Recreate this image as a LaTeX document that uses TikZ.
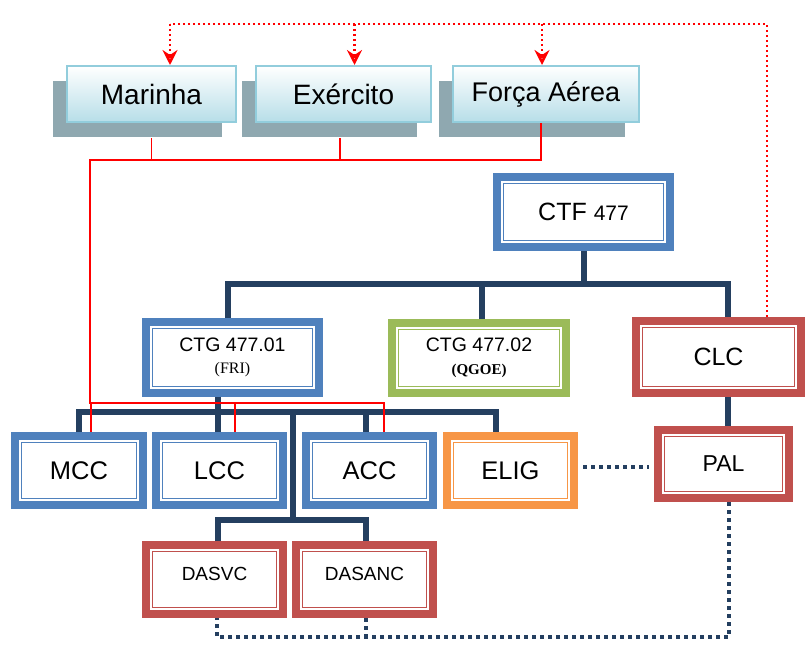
\documentclass[tikz,border=0pt]{standalone}
\usepackage{fontspec}
\setmainfont{Liberation Sans}
\newfontfamily\timesf{Liberation Serif}
\usetikzlibrary{arrows.meta,shadows}
\definecolor{cblue}{HTML}{4F81BD}
\definecolor{cred}{HTML}{C0504D}
\definecolor{cgreen}{HTML}{9BBB59}
\definecolor{corange}{HTML}{F79646}
\definecolor{cnavy}{HTML}{243F60}
\definecolor{cedge}{HTML}{92CDDC}
\definecolor{ctint}{HTML}{B7DEE8}
\definecolor{cshade}{HTML}{8FA8B0}
\newcommand{\fsz}[1]{\fontsize{#1}{#1}\selectfont}
\tikzset{
  unit/.style={draw=#1, line width=8pt, fill=white, inner sep=0pt, align=center,
    path picture={\draw[#1, line width=1.3pt] ([shift={(6.8pt,6.8pt)}]path picture bounding box.south west) rectangle ([shift={(-6.8pt,-6.8pt)}]path picture bounding box.north east);}},
  branch/.style={draw=cedge, line width=2pt, top color=white, bottom color=ctint,
    minimum height=56pt, inner sep=0pt,
    drop shadow={shadow xshift=-14pt, shadow yshift=-15pt, fill=cshade, opacity=1}},
  tree/.style={cnavy, line width=6pt},
  link/.style={cnavy, line width=4pt, dash pattern=on 4pt off 4pt},
  ctrl/.style={red, line width=1.1pt},
  order/.style={red, line width=2.4pt, dash pattern=on 2.2pt off 2.8pt},
}
\begin{document}
\begin{tikzpicture}[x=1pt, y=-1pt]
\useasboundingbox (0,0) rectangle (805,645);
% forcas singulares
\node[branch, minimum width=169pt, font=\fsz{28}] (mar) at (151.5,94) {Marinha};
\node[branch, minimum width=175pt, font=\fsz{28}] (exe) at (343.5,94) {Exército};
\node[branch, minimum width=186pt, font=\fsz{27}] (far) at (546,94) {Força Aérea};
% comando
\node[unit=cblue, minimum width=173pt, minimum height=70pt, font=\fsz{25}] (ctf) at (583.5,212) {CTF {\fsz{21}477}};
\node[unit=cblue, minimum width=173pt, minimum height=71pt, font=\fsz{19.5}] (ctg1) at (232.5,357.5) {CTG 477.01\\[3pt]{\timesf\fsz{16}(FRI)}};
\node[unit=cgreen, minimum width=174pt, minimum height=70pt, font=\fsz{19.5}] (ctg2) at (479,358) {CTG 477.02\\[3pt]{\timesf\bfseries\fsz{15}(QGOE)}};
\node[unit=cred, minimum width=165pt, minimum height=72pt, font=\fsz{25}] (clc) at (718.5,357) {CLC};
\node[unit=cblue, minimum width=128pt, minimum height=69pt, font=\fsz{25.5}] (mcc) at (79,470.5) {MCC};
\node[unit=cblue, minimum width=127pt, minimum height=69pt, font=\fsz{25.5}] (lcc) at (219.5,470.5) {LCC};
\node[unit=cblue, minimum width=127pt, minimum height=69pt, font=\fsz{25.5}] (acc) at (369.5,470.5) {ACC};
\node[unit=corange, minimum width=127pt, minimum height=69pt, font=\fsz{25.5}] (elig) at (510.5,470.5) {ELIG};
\node[unit=cred, minimum width=131pt, minimum height=68pt, font=\fsz{23}] (pal) at (723.5,464) {PAL};
\node[unit=cred, minimum width=137pt, minimum height=69pt, text depth=12pt, font=\fsz{19}] (dasvc) at (214.5,579.5) {DASVC};
\node[unit=cred, minimum width=137pt, minimum height=69pt, text depth=12pt, font=\fsz{19}] (dasanc) at (364.5,579.5) {DASANC};
\coordinate (hub) at (0,284);
\coordinate (bar) at (0,412);
\coordinate (split) at (293,520);
\coordinate (base) at (0,637);
\coordinate (rtop) at (90,160);
\coordinate (rlow) at (90,403);
\coordinate (ordtop) at (0,24);
% arvore
\draw[tree] (ctf.south) -- (ctf.south |- hub);
\draw[tree] ([xshift=-4.5pt]ctg1.north) |- ([xshift=9.5pt]clc.north |- hub) -- ([xshift=9.5pt]clc.north);
\draw[tree] ([xshift=3pt]ctg2.north) -- ([xshift=3pt]ctg2.north |- hub);
\draw[tree] ([xshift=-14.5pt]ctg1.south) -- ([xshift=-14.5pt]ctg1.south |- lcc.north);
\draw[tree] (mcc.north) |- ([xshift=-14.5pt]elig.north |- bar) -- ([xshift=-14.5pt]elig.north);
\draw[tree] ([xshift=-3.5pt]acc.north) -- ([xshift=-3.5pt]acc.north |- bar);
\draw[tree] (split |- bar) -- (split);
\draw[tree] ([xshift=3.5pt]dasvc.north) |- ([xshift=1.5pt]dasanc.north |- split) -- ([xshift=1.5pt]dasanc.north);
\draw[tree] ([xshift=9.5pt]clc.south) -- ([xshift=9.5pt]clc.south |- pal.north);
% ligacoes
\draw[link, shorten <=5pt, shorten >=5pt] (elig.east |- 0,467) -- (pal.west |- 0,467);
\draw[link] ([xshift=5.5pt]pal.south) |- ([xshift=2.5pt]dasvc.south |- base) -- ([xshift=2.5pt]dasvc.south);
\draw[link] ([xshift=1.5pt]dasanc.south) -- ([xshift=1.5pt]dasanc.south |- base);
% controle
\draw[ctrl] ([xshift=-5pt]far.south) |- (rtop) |- ([xshift=14.5pt]acc.north |- rlow) -- ([xshift=14.5pt]acc.north);
\draw[ctrl] ([yshift=-15pt]mar.south) -- (mar.south |- rtop);
\draw[ctrl] ([xshift=-3.5pt,yshift=-15pt]exe.south) -- ([xshift=-3.5pt]exe.south |- rtop);
\draw[ctrl] ([xshift=12pt]mcc.north |- rlow) -- ([xshift=12pt]mcc.north);
\draw[ctrl] ([xshift=15.5pt]lcc.north |- rlow) -- ([xshift=15.5pt]lcc.north);
% ordem
\draw[order] ([xshift=48.5pt]clc.north) |- ([xshift=18.5pt]mar.north |- ordtop);
\foreach \n/\d in {mar/18.5, exe/11, far/-4}
  \draw[order, -{Stealth[open, length=15pt, width=15pt, inset=5pt, line width=2.5pt]}] ([xshift=\d pt]\n.north |- ordtop) -- ([xshift=\d pt]\n.north);
\end{tikzpicture}
\end{document}
